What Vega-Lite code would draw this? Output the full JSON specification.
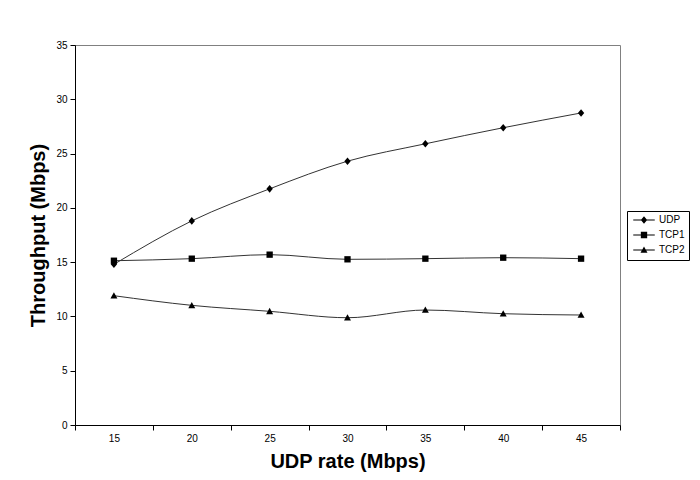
{
  "$schema": "https://vega.github.io/schema/vega-lite/v6.json",
  "width": 545,
  "height": 380,
  "autosize": "none",
  "padding": {"left": 75, "top": 45, "right": 80, "bottom": 55},
  "background": "white",
  "config": {
    "view": {"stroke": "#808080", "strokeWidth": 1},
    "font": "Liberation Sans"
  },
  "data": {
    "values": [
      {"rate": 15, "series": "UDP", "value": 14.8},
      {"rate": 20, "series": "UDP", "value": 18.8},
      {"rate": 25, "series": "UDP", "value": 21.75},
      {"rate": 30, "series": "UDP", "value": 24.3},
      {"rate": 35, "series": "UDP", "value": 25.9},
      {"rate": 40, "series": "UDP", "value": 27.38},
      {"rate": 45, "series": "UDP", "value": 28.74},
      {"rate": 15, "series": "TCP1", "value": 15.13},
      {"rate": 20, "series": "TCP1", "value": 15.32},
      {"rate": 25, "series": "TCP1", "value": 15.69},
      {"rate": 30, "series": "TCP1", "value": 15.26},
      {"rate": 35, "series": "TCP1", "value": 15.32},
      {"rate": 40, "series": "TCP1", "value": 15.41},
      {"rate": 45, "series": "TCP1", "value": 15.32},
      {"rate": 15, "series": "TCP2", "value": 11.91},
      {"rate": 20, "series": "TCP2", "value": 11.02},
      {"rate": 25, "series": "TCP2", "value": 10.47},
      {"rate": 30, "series": "TCP2", "value": 9.88},
      {"rate": 35, "series": "TCP2", "value": 10.59},
      {"rate": 40, "series": "TCP2", "value": 10.25},
      {"rate": 45, "series": "TCP2", "value": 10.13}
    ]
  },
  "encoding": {
    "x": {
      "field": "rate",
      "type": "ordinal",
      "scale": {"type": "band", "paddingInner": 0, "paddingOuter": 0},
      "axis": {
        "title": "UDP rate (Mbps)",
        "labelAngle": 0,
        "tickBand": "extent",
        "grid": false,
        "domainColor": "black",
        "tickColor": "black",
        "tickSize": 5,
        "labelFontSize": 10,
        "labelColor": "black",
        "labelPadding": 3,
        "titleFontSize": 20,
        "titleFontWeight": "bold",
        "titleColor": "black",
        "titlePadding": 8
      }
    },
    "y": {
      "field": "value",
      "type": "quantitative",
      "scale": {"domain": [0, 35], "nice": false},
      "axis": {
        "title": "Throughput (Mbps)",
        "values": [0, 5, 10, 15, 20, 25, 30, 35],
        "grid": false,
        "domainColor": "black",
        "tickColor": "black",
        "tickSize": 5,
        "labelFontSize": 10,
        "labelColor": "black",
        "labelPadding": 3,
        "titleFontSize": 20,
        "titleFontWeight": "bold",
        "titleColor": "black",
        "titlePadding": 7
      }
    }
  },
  "layer": [
    {
      "mark": {"type": "line", "color": "#333333", "strokeWidth": 1, "interpolate": "monotone"},
      "encoding": {"detail": {"field": "series"}}
    },
    {
      "mark": {"type": "point", "filled": true, "color": "black", "size": 40, "opacity": 1},
      "encoding": {
        "shape": {
          "field": "series",
          "type": "nominal",
          "scale": {
            "domain": ["UDP", "TCP1", "TCP2"],
            "range": [
              "M0,-1.2L1,0L0,1.2L-1,0Z",
              "M-1,-1H1V1H-1Z",
              "M0,-1.1L1.1,0.9H-1.1Z"
            ]
          },
          "legend": null
        }
      }
    },
    {
      "mark": {"type": "point", "filled": true, "color": "black", "size": 40, "opacity": 0},
      "encoding": {
        "shape": {
          "field": "series",
          "type": "nominal",
          "scale": {
            "domain": ["UDP", "TCP1", "TCP2"],
            "range": [
              "M-3.4,-0.16H3.4V0.16H-3.4ZM0,-1.2L1,0L0,1.2L-1,0Z",
              "M-3.4,-0.16H3.4V0.16H-3.4ZM-1,-1H1V1H-1Z",
              "M-3.4,-0.16H3.4V0.16H-3.4ZM0,-1.1L1.1,0.9H-1.1Z"
            ]
          },
          "legend": {
            "title": null,
            "orient": "none",
            "legendX": 552,
            "legendY": 166,
            "strokeColor": "black",
            "padding": 4,
            "symbolSize": 40,
            "symbolOffset": 8,
            "symbolOpacity": 1,
            "symbolFillColor": "black",
            "labelFontSize": 10,
            "labelColor": "black",
            "rowPadding": 1,
            "labelOffset": 10
          }
        }
      }
    }
  ],
  "resolve": {"scale": {"shape": "independent"}}
}
